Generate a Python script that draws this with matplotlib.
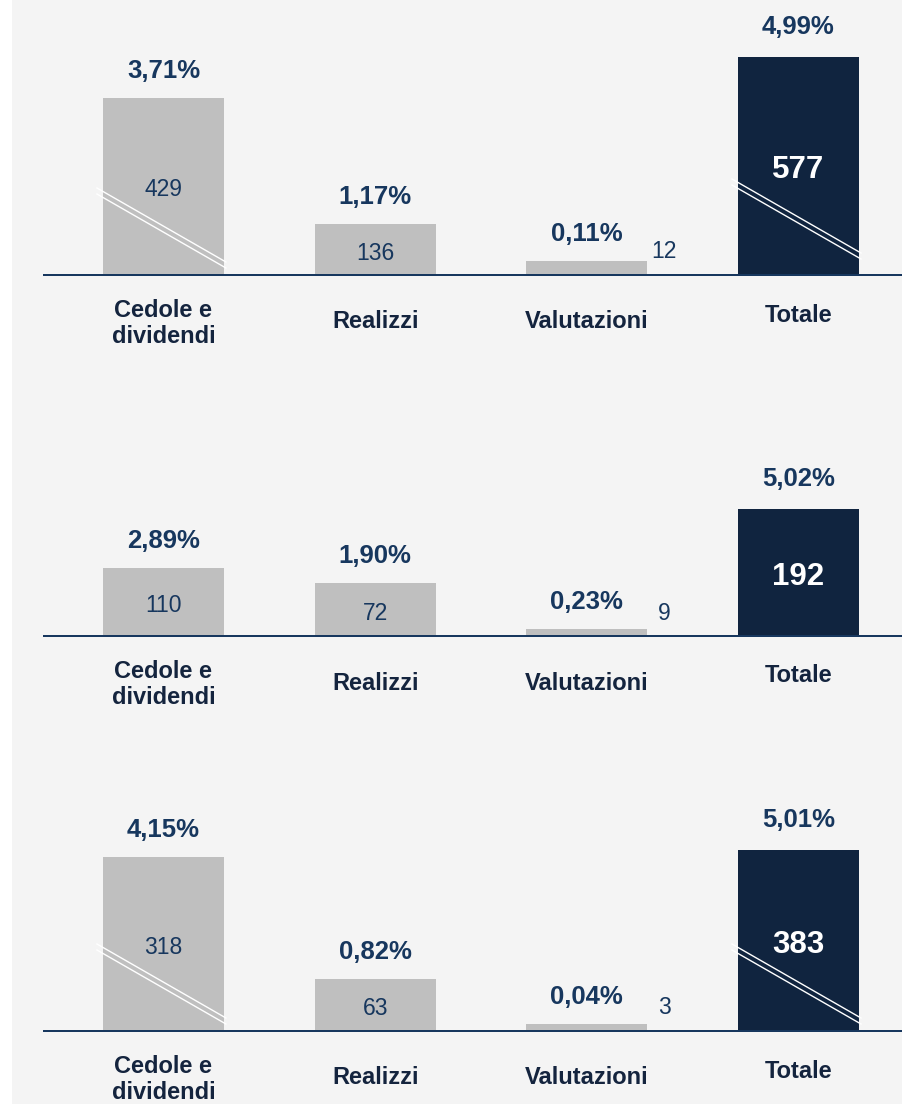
import matplotlib
matplotlib.use("Agg")
import matplotlib.pyplot as plt
from matplotlib.patches import Rectangle
from matplotlib.lines import Line2D

plt.rcParams['font.family'] = ['Liberation Sans', 'DejaVu Sans']

# ---------------- data ----------------
categories = ["Cedole e\ndividendi", "Realizzi", "Valutazioni", "Totale"]

# amounts shown in/next to bars
amounts_p1 = [429, 136, 12, 577]
amounts_p2 = [110, 72, 9, 192]
amounts_p3 = [318, 63, 3, 383]

# yields shown above bars
pct_p1 = ["3,71%", "1,17%", "0,11%", "4,99%"]
pct_p2 = ["2,89%", "1,90%", "0,23%", "5,02%"]
pct_p3 = ["4,15%", "0,82%", "0,04%", "5,01%"]

# displayed (broken-axis) bar heights, in pixels
height_p1 = [178, 52, 15, 219]
height_p2 = [69, 54, 8, 128]
height_p3 = [175, 53, 8, 182]

# which bars carry a break mark (height of upper-left end of mark above baseline)
breaks_p1 = {0: 88, 3: 97}
breaks_p2 = {}
breaks_p3 = {0: 88, 3: 88}

baselines_px = [276, 637, 1032]   # baseline position (px from top)

panels = [
    (amounts_p1, pct_p1, height_p1, breaks_p1),
    (amounts_p2, pct_p2, height_p2, breaks_p2),
    (amounts_p3, pct_p3, height_p3, breaks_p3),
]

# ---------------- style ----------------
W, H = 902, 1104
DPI = 100
BG = "#f4f4f4"
GRAY = "#bfbfbf"
NAVY = "#10243f"
TXT = "#17375e"
CAT = "#14243e"
BASE = "#17375e"
bar_colors = [GRAY, GRAY, GRAY, NAVY]

PT = 72.0 / DPI  # points per pixel

fig = plt.figure(figsize=(W / DPI, H / DPI), dpi=DPI)
fig.patch.set_facecolor("white")
fig.add_artist(Rectangle((12 / W, 0), 1 - 12 / W, 1, transform=fig.transFigure,
                         facecolor=BG, edgecolor="none", zorder=-10))

ax_left_px = 43
ax_h_px = 268
bar_w = 0.5716
xlim = (-0.569, 3.489)

for (amounts, pcts, heights, brks), base in zip(panels, baselines_px):
    ax = fig.add_axes([ax_left_px / W, (H - base) / H, (W - ax_left_px) / W, ax_h_px / H])
    ax.set_xlim(*xlim)
    ax.set_ylim(0, ax_h_px)
    ax.set_facecolor("none")
    ax.axis("off")

    xs = list(range(len(categories)))
    ax.bar(xs, heights, width=bar_w, color=bar_colors, edgecolor="none", zorder=2)
    ax.axhline(0, color=BASE, lw=4.0 * PT, zorder=3, solid_capstyle="butt")

    for i, (cat, amt, pct, h) in enumerate(zip(categories, amounts, pcts, heights)):
        # percentage label above bar
        gap = 23 if i == 3 else 20
        ax.annotate(pct, xy=(i, h), xytext=(0, gap * PT), textcoords="offset points",
                    ha="center", va="baseline", fontsize=18.5, fontweight="bold",
                    color=TXT, annotation_clip=False)
        # amount label
        if i == 3:
            ax.annotate(str(amt), xy=(i, h / 2), xytext=(0, -4 * PT),
                        textcoords="offset points", ha="center", va="center",
                        fontsize=22.5, fontweight="bold", color="white", zorder=5)
        elif i == 2:
            ax.annotate(str(amt), xy=(i + bar_w / 2, 0), xytext=(17 * PT, 24 * PT),
                        textcoords="offset points", ha="center", va="center",
                        fontsize=16.5, color=TXT, annotation_clip=False)
        else:
            ax.annotate(str(amt), xy=(i, h / 2), xytext=(0, -3 * PT),
                        textcoords="offset points", ha="center", va="center",
                        fontsize=16.5, color=TXT, zorder=5)
        # category label
        if "\n" in cat:
            off = 47.5
        elif i == 3:
            off = 39
        else:
            off = 46
        ax.annotate(cat, xy=(i, 0), xytext=(0, -off * PT), textcoords="offset points",
                    ha="center", va="center", fontsize=17, fontweight="bold",
                    color=CAT, linespacing=1.15, annotation_clip=False)

    # break marks (double white diagonal lines)
    px_per_unit = (W - ax_left_px) / (xlim[1] - xlim[0])
    for i, ytop in brks.items():
        x0 = i - bar_w / 2 - 6 / px_per_unit
        x1 = i + bar_w / 2 + 2 / px_per_unit
        drop = 74
        for dy in (0, 6):
            ax.add_line(Line2D([x0, x1], [ytop - dy, ytop - drop - dy], color="white",
                               lw=1.0, zorder=4, clip_on=False))

fig.savefig("out.png", dpi=DPI, facecolor=fig.get_facecolor())
